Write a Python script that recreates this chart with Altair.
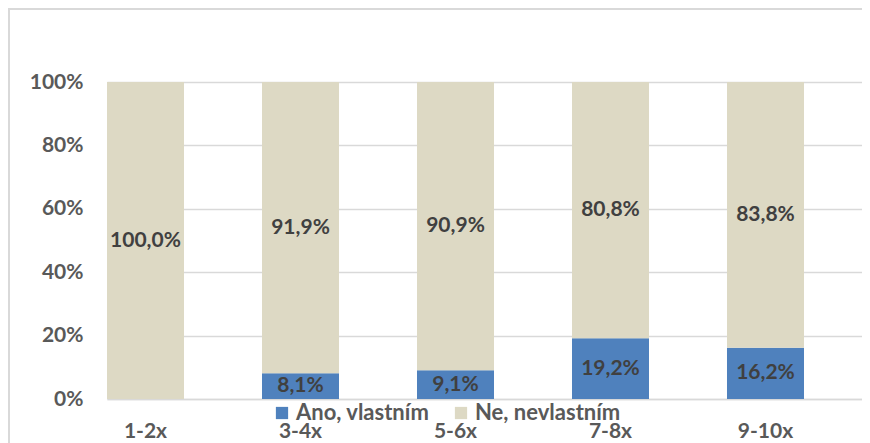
import altair as alt
import pandas as pd

categories = ["1-2x", "3-4x", "5-6x", "7-8x", "9-10x"]
ano = [0.0, 8.1, 9.1, 19.2, 16.2]
ne = [100.0, 91.9, 90.9, 80.8, 83.8]
series = ["Ano, vlastním", "Ne, nevlastním"]
colors = ["#4F81BD", "#DDD9C4"]

rows = []
for c, a, n in zip(categories, ano, ne):
    rows.append({"cat": c, "series": series[0], "val": a, "ord": 0})
    rows.append({"cat": c, "series": series[1], "val": n, "ord": 1})
df = pd.DataFrame(rows)
df["label"] = df["val"].map(lambda v: f"{v:.1f}".replace(".", ",") + "%")

FONT = "Lato"

xscale = alt.Scale(domain=categories, paddingInner=0.5032, paddingOuter=0.1871, align=0)
yscale = alt.Scale(domain=[0, 100], nice=False)

base = alt.Chart(df).transform_stack(
    stack="val", groupby=["cat"], as_=["y0", "y1"], sort=[alt.SortField("ord", order="ascending")]
).transform_calculate(mid="(datum.y0 + datum.y1) / 2")

bars = base.mark_bar().encode(
    x=alt.X("cat:N", scale=xscale, sort=categories, title=None,
            axis=alt.Axis(labelAngle=0, ticks=False, domainColor="#d9d9d9", domainWidth=1.5,
                          labelPadding=21, labelFont=FONT, labelFontSize=21,
                          labelFontWeight="bold", labelColor="#595959")),
    y=alt.Y("y0:Q", scale=yscale, title=None,
            axis=alt.Axis(values=[0, 20, 40, 60, 80, 100], labelExpr="datum.value + '%'",
                          domain=False, ticks=False, gridColor="#d9d9d9", gridWidth=1.5,
                          labelPadding=24, labelFont=FONT, labelFontSize=21,
                          labelFontWeight="bold", labelColor="#595959")),
    y2="y1:Q",
    color=alt.Color("series:N", scale=alt.Scale(domain=series, range=colors), title=None,
                    legend=alt.Legend(orient="none", legendX=164, legendY=320, direction="horizontal",
                                      symbolType="square", symbolSize=150, symbolStrokeWidth=0,
                                      labelFont=FONT, labelFontSize=22, labelFontWeight="bold",
                                      labelColor="#595959", columnPadding=20, labelOffset=3,
                                      labelLimit=300)),
)

texts = base.transform_filter("datum.val > 0").mark_text(
    font=FONT, fontSize=21, fontWeight="bold", color="#404040"
).encode(
    x=alt.X("cat:N", scale=xscale, sort=categories),
    y=alt.Y("mid:Q", scale=yscale),
    text="label:N",
)

frame_df = pd.DataFrame({"a": [0]})
frame_top = alt.Chart(frame_df).mark_rect(color="#d9d9d9", strokeWidth=0).encode(
    x=alt.value(-98), x2=alt.value(755), y=alt.value(-74), y2=alt.value(-72))
frame_left = alt.Chart(frame_df).mark_rect(color="#d9d9d9", strokeWidth=0).encode(
    x=alt.value(-99), x2=alt.value(-97), y=alt.value(-74), y2=alt.value(361))

chart = alt.layer(frame_top, frame_left, bars, texts).properties(
    width=755, height=317,
    padding={"left": 99, "top": 74, "right": 0, "bottom": 44},
    autosize=alt.AutoSizeParams(type="none"),
).configure_view(stroke="transparent", strokeWidth=0)

chart.save("out.html", embed_options={"renderer": "svg", "actions": False})
